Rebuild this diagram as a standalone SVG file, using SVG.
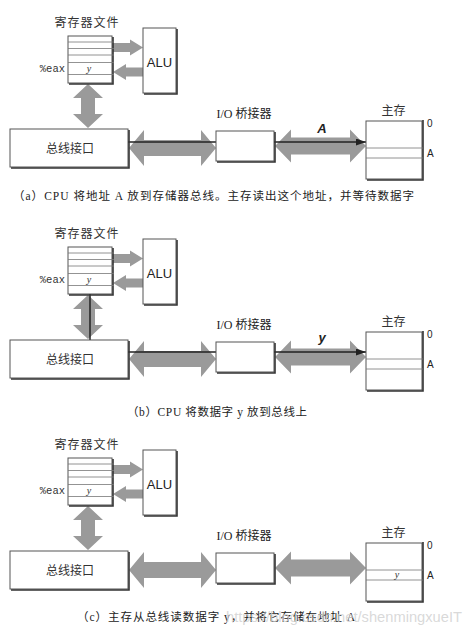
<svg xmlns="http://www.w3.org/2000/svg" width="473" height="634" viewBox="0 0 473 634">
<style>
.bg{fill:#ffffff}
.box{fill:#ffffff;stroke:#555;stroke-width:1}
.shadow{fill:none;stroke:#333;stroke-width:1.6}
.row{stroke:#777;stroke-width:0.8}
.garrow{fill:#9a9a9a}
.wire{fill:none;stroke:#222;stroke-width:1.5}
.cjk{font-family:"Liberation Serif","Noto Sans CJK SC",serif;fill:#222}
.title{font-family:"Noto Sans CJK SC","Liberation Sans",sans-serif;font-size:12px;fill:#333;text-anchor:middle}
.sans{font-family:"Liberation Sans",Arial,sans-serif;fill:#222}
.mono{font-family:"Liberation Mono",monospace;font-size:10.5px;fill:#333;text-anchor:end}
.cap{font-family:"Liberation Serif","Noto Sans CJK SC",serif;font-size:11.5px;fill:#222}
.val{font-family:"Liberation Serif",serif;font-style:italic;font-size:10px;fill:#333;text-anchor:middle}
.lbl{font-family:"Liberation Sans",Arial,sans-serif;font-size:13px;font-weight:bold;font-style:italic;fill:#222;text-anchor:middle}
</style>
<defs>
<filter id="soft" x="-5%" y="-5%" width="110%" height="110%"><feGaussianBlur stdDeviation="0.5"/></filter>
<marker id="tip" markerWidth="10" markerHeight="7" refX="10" refY="3.5" orient="auto" markerUnits="userSpaceOnUse"><path d="M0,0 L10,3.5 L0,7 z" fill="#222"/></marker>
<g id="regfile-base">
<rect class="box" x="68" y="36" width="44" height="47"/>
<polyline class="shadow" points="113,37 113,84 69,84"/>
<line class="row" x1="68" y1="42" x2="114" y2="42"/>
<line class="row" x1="68" y1="48.5" x2="114" y2="48.5"/>
<line class="row" x1="68" y1="55" x2="114" y2="55"/>
<line class="row" x1="68" y1="62.5" x2="114" y2="62.5"/>
<line class="row" x1="68" y1="74.5" x2="114" y2="74.5"/>
<text class="title" x="87" y="27" letter-spacing="1">寄存器文件</text>
<text class="mono" x="65" y="72">%eax</text>
</g>
<g id="alu-base">
<rect class="box" x="143" y="28" width="33" height="65"/>
<polyline class="shadow" points="177,29 177,94 144,94"/>
<text class="sans" x="159.5" y="66.5" font-size="13" text-anchor="middle">ALU</text>
</g>
<g id="bus-base">
<rect class="box" x="10" y="129" width="118" height="38"/>
<polyline class="shadow" points="129,130 129,168 11,168"/>
<text class="title" x="70" y="153">总线接口</text>
</g>
<g id="io-base">
<rect class="box" x="216" y="131" width="58" height="30"/>
<polyline class="shadow" points="275,132 275,162 217,162"/>
<text class="cjk" x="244" y="118" font-size="12" text-anchor="middle">I/O 桥接器</text>
</g>
<g id="mem-base">
<rect class="box" x="366" y="121" width="56" height="58"/>
<polyline class="shadow" points="423,120 423,180 367,180"/>
<line class="row" x1="366" y1="148" x2="423" y2="148"/>
<line class="row" x1="366" y1="158" x2="423" y2="158"/>
<text class="title" x="393.5" y="115" font-size="11.5">主存</text>
<text class="sans" x="427" y="127" font-size="10">0</text>
<text class="sans" x="427" y="157" font-size="10">A</text>
</g>
<g id="arrows-base" filter="url(#soft)">
<path class="garrow" d="M113,43 L130,43 L130,39.5 L143,47.5 L130,55.5 L130,52 L113,52 Z"/>
<path class="garrow" d="M143,67.5 L126,67.5 L126,64 L113,72 L126,80 L126,76.5 L143,76.5 Z"/>
<path class="garrow" d="M88,84 L103,98 L95,98 L95,114 L103,114 L88,128 L73,114 L81,114 L81,98 L73,98 Z"/>
<path class="garrow" d="M129,148 L144,130 L144,140 L201,140 L201,130 L216,148 L201,166 L201,156 L144,156 L144,166 Z"/>
<path class="garrow" d="M275,146 L291,129.5 L291,137.5 L350,137.5 L350,129.5 L366,146 L350,162.5 L350,154.5 L291,154.5 L291,162.5 Z"/>
</g>
</defs>
<rect class="bg" x="0" y="0" width="473" height="634"/>

<g id="panel-a">
<g id="a-connectors">
<use href="#arrows-base"/>
<line class="wire" x1="128" y1="142" x2="366" y2="142" marker-end="url(#tip)"/>
<text class="lbl" x="322" y="133">A</text>
</g>
<g id="a-register-file"><use href="#regfile-base"/><text class="val" x="89" y="72">y</text></g>
<g id="a-alu"><use href="#alu-base"/></g>
<g id="a-bus-interface"><use href="#bus-base"/></g>
<g id="a-io-bridge"><use href="#io-base"/></g>
<g id="a-main-memory"><use href="#mem-base"/></g>
</g>

<g id="panel-b" transform="translate(0,211)">
<g id="b-connectors">
<use href="#arrows-base"/>
<polyline class="wire" points="90,70 90,141 366,141" marker-end="url(#tip)"/>
<text class="lbl" x="322" y="131">y</text>
</g>
<g id="b-register-file"><use href="#regfile-base"/><text class="val" x="89" y="72" font-size="8">y</text></g>
<g id="b-alu"><use href="#alu-base"/></g>
<g id="b-bus-interface"><use href="#bus-base"/></g>
<g id="b-io-bridge"><use href="#io-base"/></g>
<g id="b-main-memory"><use href="#mem-base"/></g>
</g>

<g id="panel-c" transform="translate(0,422)">
<g id="c-connectors">
<use href="#arrows-base"/>
</g>
<g id="c-register-file"><use href="#regfile-base"/><text class="val" x="89" y="72">y</text></g>
<g id="c-alu"><use href="#alu-base"/></g>
<g id="c-bus-interface"><use href="#bus-base"/></g>
<g id="c-io-bridge"><use href="#io-base"/></g>
<g id="c-main-memory"><use href="#mem-base"/><text class="val" x="397" y="156">y</text></g>
</g>

<g id="captions">
<text class="cap" x="13" y="200" textLength="401" lengthAdjust="spacing">（a）CPU 将地址 A 放到存储器总线。主存读出这个地址，并等待数据字</text>
<text class="cap" x="127" y="416" textLength="180" lengthAdjust="spacing">（b）CPU 将数据字 y 放到总线上</text>
<text class="cap" x="77" y="621" textLength="278" lengthAdjust="spacing">（c）主存从总线读数据字 y，并将它存储在地址 A</text>
<text x="226" y="622" font-family="Liberation Sans,Arial,sans-serif" font-size="14" fill="#cfcfcf" fill-opacity="0.8" textLength="236" lengthAdjust="spacingAndGlyphs">https://blog.csdn.net/shenmingxueIT</text>
</g>
</svg>
